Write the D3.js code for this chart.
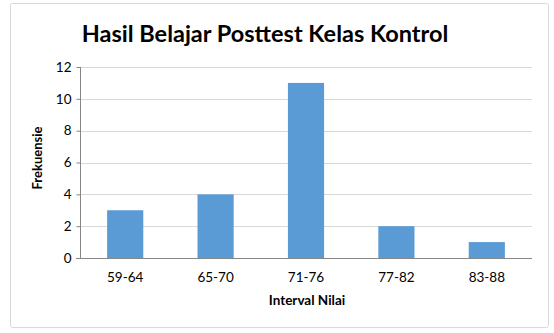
<!DOCTYPE html>
<html>
<head>
<meta charset="utf-8">
<script src="https://cdn.jsdelivr.net/npm/d3@7"></script>
<style>
  body { margin: 0; background: #fff; }
  text { font-family: Lato, "Open Sans", sans-serif; }
</style>
</head>
<body>
<div id="chart"></div>
<script>
// data
var categories = ["59-64", "65-70", "71-76", "77-82", "83-88"];
var frekuensi = [3, 4, 11, 2, 1];
var yTicks = [0, 2, 4, 6, 8, 10, 12];

var svgWidth = 554;
var svgHeight = 333;

var margin = {
  top: 67,
  right: 22,
  bottom: 75,
  left: 80
};

var width = svgWidth - margin.left - margin.right;
var height = svgHeight - margin.top - margin.bottom;

var svg = d3.select("#chart")
  .append("svg")
  .attr("width", svgWidth)
  .attr("height", svgHeight);

// outer frame
svg.append("rect")
  .attr("x", 10.5)
  .attr("y", 3.5)
  .attr("width", 538)
  .attr("height", 324)
  .attr("rx", 2)
  .attr("fill", "#fff")
  .attr("stroke", "#d9d9d9");

svg.append("text")
  .attr("x", 265)
  .attr("y", 42)
  .attr("text-anchor", "middle")
  .attr("font-size", "23.5px")
  .attr("font-weight", "bold")
  .attr("fill", "#000")
  .text("Hasil Belajar Posttest Kelas Kontrol");

var chartGroup = svg.append("g")
  .attr("transform", `translate(${margin.left}, ${margin.top})`);

var xScale = d3.scaleBand()
  .domain(categories)
  .range([0, width])
  .paddingInner(0.6)
  .paddingOuter(0.3);

var yScale = d3.scaleLinear()
  .domain([0, 12])
  .range([height, 0]);

// gridlines
chartGroup.append("g")
  .selectAll("line")
  .data(yTicks.slice(1))
  .enter()
  .append("line")
  .attr("x1", 0)
  .attr("x2", width)
  .attr("y1", d => Math.round(yScale(d)) + 0.5)
  .attr("y2", d => Math.round(yScale(d)) + 0.5)
  .attr("stroke", "#d9d9d9");

var leftAxis = d3.axisLeft(yScale)
  .tickValues(yTicks)
  .tickSize(4)
  .tickPadding(5);

var yAxis = chartGroup.append("g")
  .attr("transform", "translate(0.5, 0)")
  .call(leftAxis);

yAxis.select(".domain").attr("stroke", "#868686").attr("d", `M0,${height}V0`);
yAxis.selectAll(".tick line").attr("stroke", "#868686");
yAxis.selectAll(".tick text")
  .attr("font-size", "13.5px")
  .attr("fill", "#000")
  .style("font-family", "Lato, sans-serif");

chartGroup.selectAll(".bar")
  .data(frekuensi)
  .enter()
  .append("rect")
  .attr("class", "bar")
  .attr("x", (d, i) => xScale(categories[i]))
  .attr("y", d => yScale(d))
  .attr("width", xScale.bandwidth())
  .attr("height", d => height - yScale(d))
  .attr("fill", "#5b9bd5");

var bottomAxis = d3.axisBottom(xScale)
  .tickSize(0)
  .tickPadding(14);

var xAxis = chartGroup.append("g")
  .attr("transform", `translate(0, ${height + 0.5})`)
  .call(bottomAxis);

xAxis.select(".domain").attr("stroke", "#868686").attr("d", `M-4,0H${width}`);
xAxis.selectAll(".tick text")
  .attr("font-size", "13.5px")
  .attr("fill", "#000")
  .style("font-family", "Lato, sans-serif");

svg.append("text")
  .attr("x", 307)
  .attr("y", 305)
  .attr("text-anchor", "middle")
  .attr("font-size", "13.5px")
  .attr("font-weight", "bold")
  .text("Interval Nilai");

svg.append("text")
  .attr("transform", "translate(42, 158) rotate(-90)")
  .attr("text-anchor", "middle")
  .attr("font-size", "13px")
  .attr("font-weight", "bold")
  .text("Frekuensie");
</script>
</body>
</html>
